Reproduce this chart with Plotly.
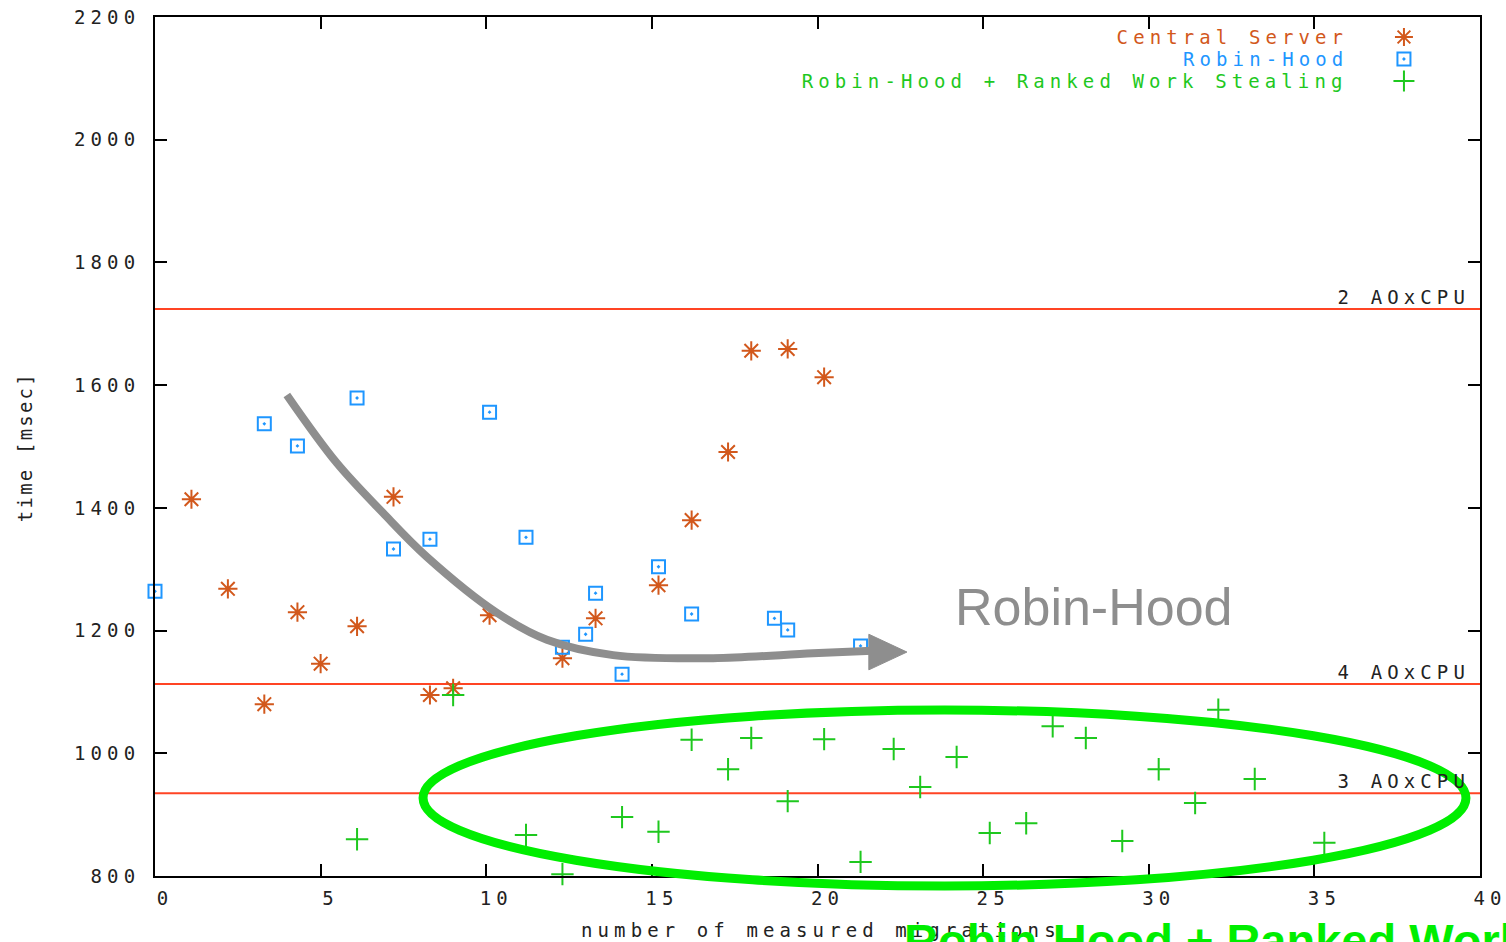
import plotly.graph_objects as go

# Measured runs: x = number of measured migrations, y = time [msec]
central_x = [1.1, 2.2, 3.3, 4.3, 5.0, 6.1, 7.2, 8.3, 9.0, 10.1, 12.3, 13.3, 15.2, 16.2, 17.3, 18.0, 19.1, 20.2]
central_y = [1414, 1268, 1080, 1230, 1146, 1207, 1418, 1095, 1106, 1225, 1155, 1220, 1274, 1380, 1491, 1656, 1659, 1613]

robin_x = [0.0, 3.3, 4.3, 6.1, 7.2, 8.3, 10.1, 11.2, 12.3, 13.0, 13.3, 14.1, 15.2, 16.2, 18.7, 19.1, 21.3]
robin_y = [1264, 1537, 1501, 1579, 1333, 1349, 1556, 1352, 1173, 1194, 1261, 1129, 1304, 1227, 1220, 1201, 1175]

ranked_x = [6.1, 9.0, 11.2, 12.3, 14.1, 15.2, 16.2, 17.3, 18.0, 19.1, 20.2, 21.3, 22.3,
            23.1, 24.2, 25.2, 26.3, 27.1, 28.1, 29.2, 30.3, 31.4, 32.1, 33.2, 35.3]
ranked_y = [860, 1095, 867, 803, 896, 872, 1022, 974, 1025, 922, 1023, 823, 1007,
            945, 994, 870, 886, 1044, 1025, 857, 974, 919, 1071, 958, 854]

series_names = ["Central Server", "Robin-Hood", "Robin-Hood + Ranked Work Stealing"]

# Reference levels (horizontal lines)
level_values = [1724, 1113, 935]
level_labels = ["2 AOxCPU", "4 AOxCPU", "3 AOxCPU"]

x_ticks = [0, 5, 10, 15, 20, 25, 30, 35, 40]
y_ticks = [800, 1000, 1200, 1400, 1600, 1800, 2000, 2200]

# Trend arrow for Robin-Hood (axis units)
arrow_x = [3.98, 5.49, 6.88, 8.21, 10.32, 11.83, 13.83, 16.85, 19.86, 21.65]
arrow_y = [1584, 1473, 1392, 1320, 1229, 1185, 1160, 1155, 1163, 1167]

MONO = "DejaVu Sans Mono"
MONO_SIZE = 19
ORANGE = "#d2581c"
BLUE = "#1e96ff"
GREEN = "#1ec81e"
RED = "#ff4424"
BRIGHT = "#00ee00"
GRAY = "#8e8e8e"
INK = "#222222"

fig = go.Figure()

fig.add_trace(go.Scatter(
    x=central_x, y=central_y, mode="markers", name=series_names[0], cliponaxis=False,
    marker=dict(symbol="asterisk-open", size=16, line=dict(color=ORANGE, width=2), color=ORANGE),
))
fig.add_trace(go.Scatter(
    x=robin_x, y=robin_y, mode="markers", name=series_names[1], cliponaxis=False,
    marker=dict(symbol="square-open-dot", size=13, line=dict(color=BLUE, width=2), color=BLUE),
))
fig.add_trace(go.Scatter(
    x=ranked_x, y=ranked_y, mode="markers", name=series_names[2], cliponaxis=False,
    marker=dict(symbol="cross-thin-open", size=16, line=dict(color=GREEN, width=2), color=GREEN),
))

# Legend keys drawn on a hidden 0..1 overlay axis pair, to the right of the labels
key_x = 0.9426
key_rows = [0.9767, 0.9511, 0.9255]
key_symbols = ["asterisk-open", "square-open-dot", "cross-thin-open"]
key_sizes = [15, 13, 15]
key_colors = [ORANGE, BLUE, GREEN]
for sym, sz, col, ky in zip(key_symbols, key_sizes, key_colors, key_rows):
    fig.add_trace(go.Scatter(
        x=[key_x], y=[ky], xaxis="x2", yaxis="y2", mode="markers", showlegend=False,
        hoverinfo="skip", cliponaxis=False,
        marker=dict(symbol=sym, size=sz, color=col, line=dict(color=col, width=2)),
    ))

# Arrow body
fig.add_trace(go.Scatter(
    x=arrow_x, y=arrow_y, mode="lines", showlegend=False, hoverinfo="skip",
    line=dict(color=GRAY, width=8, shape="spline", smoothing=1.0),
))

shapes = []
for v in level_values:
    shapes.append(dict(type="line", xref="paper", yref="y", x0=0, x1=1, y0=v, y1=v,
                       line=dict(color=RED, width=2), layer="below"))
# Arrow head
shapes.append(dict(type="path", xref="x", yref="y",
                   path="M 21.55 1194 L 22.7 1165 L 21.55 1136 Z",
                   fillcolor=GRAY, line=dict(color=GRAY, width=1), layer="above"))
# Highlight ellipse around the work-stealing runs
shapes.append(dict(type="circle", xref="paper", yref="paper",
                   x0=0.2023, x1=0.9894, y0=-0.0116, y1=0.1932,
                   line=dict(color=BRIGHT, width=9), layer="above"))

annotations = []
for v, lab in zip(level_values, level_labels):
    annotations.append(dict(text=lab, xref="paper", yref="y", x=0.9792, y=v, yshift=12,
                            xanchor="right", yanchor="middle", showarrow=False,
                            font=dict(family=MONO, size=MONO_SIZE, color=INK)))
legend_x = 0.9022
for name, col, ky in zip(series_names, key_colors, key_rows):
    annotations.append(dict(text=name, xref="paper", yref="paper", x=legend_x, y=ky,
                            xanchor="right", yanchor="middle", align="right", showarrow=False,
                            font=dict(family=MONO, size=MONO_SIZE, color=col)))
# Axis titles
annotations.append(dict(text="number of measured migrations", xref="paper", yref="paper",
                        x=0.5, y=-0.0629, xshift=3, xanchor="center", yanchor="middle",
                        showarrow=False, font=dict(family=MONO, size=MONO_SIZE, color=INK)))
ytitle_index = len(annotations)
annotations.append(dict(text="time [msec]", xref="paper", yref="paper",
                        x=-0.0981, y=0.4994, textangle=-90, xanchor="center", yanchor="middle",
                        showarrow=False, font=dict(family=MONO, size=MONO_SIZE, color=INK)))
# Callouts
annotations.append(dict(text="Robin-Hood", xref="paper", yref="paper", x=0.7087, y=0.3132,
                        xanchor="center", yanchor="middle", showarrow=False,
                        font=dict(family="Liberation Sans, Arial", size=52, color=GRAY)))
annotations.append(dict(text="<b>Robin-Hood + Ranked Work Stealing</b>", xref="paper", yref="paper",
                        x=0.5638, y=-0.0419, xanchor="left", yanchor="top", showarrow=False,
                        font=dict(family="Liberation Sans, Arial", size=47, color=BRIGHT)))

axis_common = dict(showline=True, linecolor="black", linewidth=2, mirror="ticks",
                   ticks="inside", ticklen=12, tickwidth=2, tickcolor="black",
                   showgrid=False, zeroline=False, automargin=False,
                   tickfont=dict(family=MONO, size=MONO_SIZE, color=INK))

fig.update_layout(
    width=1506, height=942,
    margin=dict(l=155, r=26, t=17, b=66, autoexpand=False),
    paper_bgcolor="white", plot_bgcolor="white",
    showlegend=False,
    xaxis=dict(range=[0, 40], tickvals=x_ticks, ticktext=[str(t) for t in x_ticks],
               ticklabelshift=10, ticklabelstandoff=4, **axis_common),
    yaxis=dict(range=[800, 2200], tickvals=y_ticks, ticktext=[str(t) for t in y_ticks],
               ticklabelstandoff=9, **axis_common),
    xaxis2=dict(overlaying="x", range=[0, 1], visible=False),
    yaxis2=dict(overlaying="y", range=[0, 1], visible=False),
    shapes=shapes,
    annotations=annotations,
)

# Wide, evenly spaced monospace lettering
post = """
var gd = document.getElementById('{plot_id}');
function spaceText(){
  gd.querySelectorAll('text').forEach(function(t){
    var ff = t.style.fontFamily || '';
    if (ff.indexOf('DejaVu Sans Mono') === -1) return;
    var ann = t.closest('g.annotation');
    var ls = (ann && ann.getAttribute('data-index') === 'YIDX') ? '2.2px' : '5.1px';
    t.style.letterSpacing = ls;
  });
}
spaceText();
gd.on('plotly_afterplot', spaceText);
""".replace("YIDX", str(ytitle_index))

fig.write_html("out.html", post_script=post)
